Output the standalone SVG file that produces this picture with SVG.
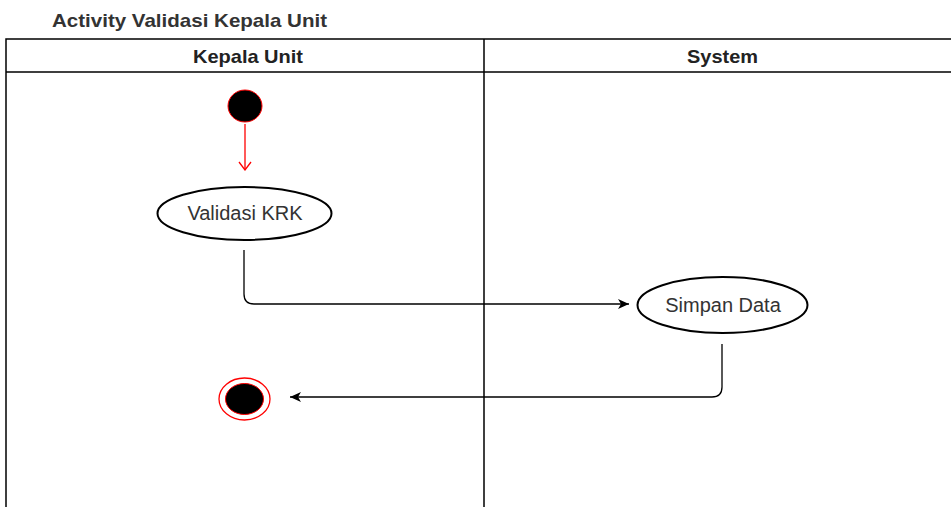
<svg xmlns="http://www.w3.org/2000/svg" width="951" height="507" viewBox="0 0 951 507">
<style>
.t{font-family:"Liberation Sans",Arial,sans-serif;fill:#333}
.h{font-size:19px;font-weight:bold;text-anchor:middle;fill:#222}
.lane{fill:none;stroke:#000;stroke-width:1.5}
.act{fill:#fff;stroke:#000;stroke-width:2}
.lbl{font-size:20px;text-anchor:middle;fill:#333}
.con{fill:none;stroke:#000;stroke-width:1.3}
</style>
<defs>
<marker id="ah" markerWidth="12" markerHeight="10" refX="11" refY="5" orient="auto" markerUnits="userSpaceOnUse">
<path d="M0,0 L11,5 L0,10 L3,5 Z" fill="#000"/>
</marker>
<marker id="ar" markerWidth="14" markerHeight="14" refX="7" refY="13" orient="0" markerUnits="userSpaceOnUse">
<path d="M1,5 L7,13 L13,5" fill="none" stroke="#f00" stroke-width="1.3"/>
</marker>
</defs>
<rect width="951" height="507" fill="#fff"/>
<text class="t" x="52" y="27" font-size="19" font-weight="bold" fill="#222" textLength="275" lengthAdjust="spacingAndGlyphs">Activity Validasi Kepala Unit</text>
<g id="lanes">
<path class="lane" d="M6,510 V39 H953 M6,72 H953 M484,39 V510"/>
<text class="t h" x="248" y="63" textLength="110" lengthAdjust="spacingAndGlyphs">Kepala Unit</text>
<text class="t h" x="722.5" y="63" textLength="71" lengthAdjust="spacingAndGlyphs">System</text>
</g>
<g id="connectors">
<path d="M245,124 V170" fill="none" stroke="#f00" stroke-width="1.3" marker-end="url(#ar)"/>
<path class="con" d="M244,250 V294 Q244,304 254,304 H629" marker-end="url(#ah)"/>
<path class="con" d="M722,344 V387 Q722,397 712,397 H290" marker-end="url(#ah)"/>
</g>
<g id="start">
<ellipse cx="245" cy="106" rx="17" ry="16" fill="#000" stroke="#f00" stroke-width="1"/>
</g>
<g id="validasi">
<ellipse class="act" cx="244.5" cy="213.5" rx="87" ry="26.5"/>
<text class="t lbl" x="245" y="220">Validasi KRK</text>
</g>
<g id="simpan">
<ellipse class="act" cx="722.5" cy="305" rx="85" ry="28"/>
<text class="t lbl" x="723" y="312">Simpan Data</text>
</g>
<g id="end">
<ellipse cx="244.5" cy="399" rx="25.5" ry="21" fill="#fff" stroke="#f00" stroke-width="1.3"/>
<ellipse cx="244.5" cy="399" rx="19" ry="15.5" fill="#000" stroke="#f00" stroke-width="1"/>
</g>
</svg>
